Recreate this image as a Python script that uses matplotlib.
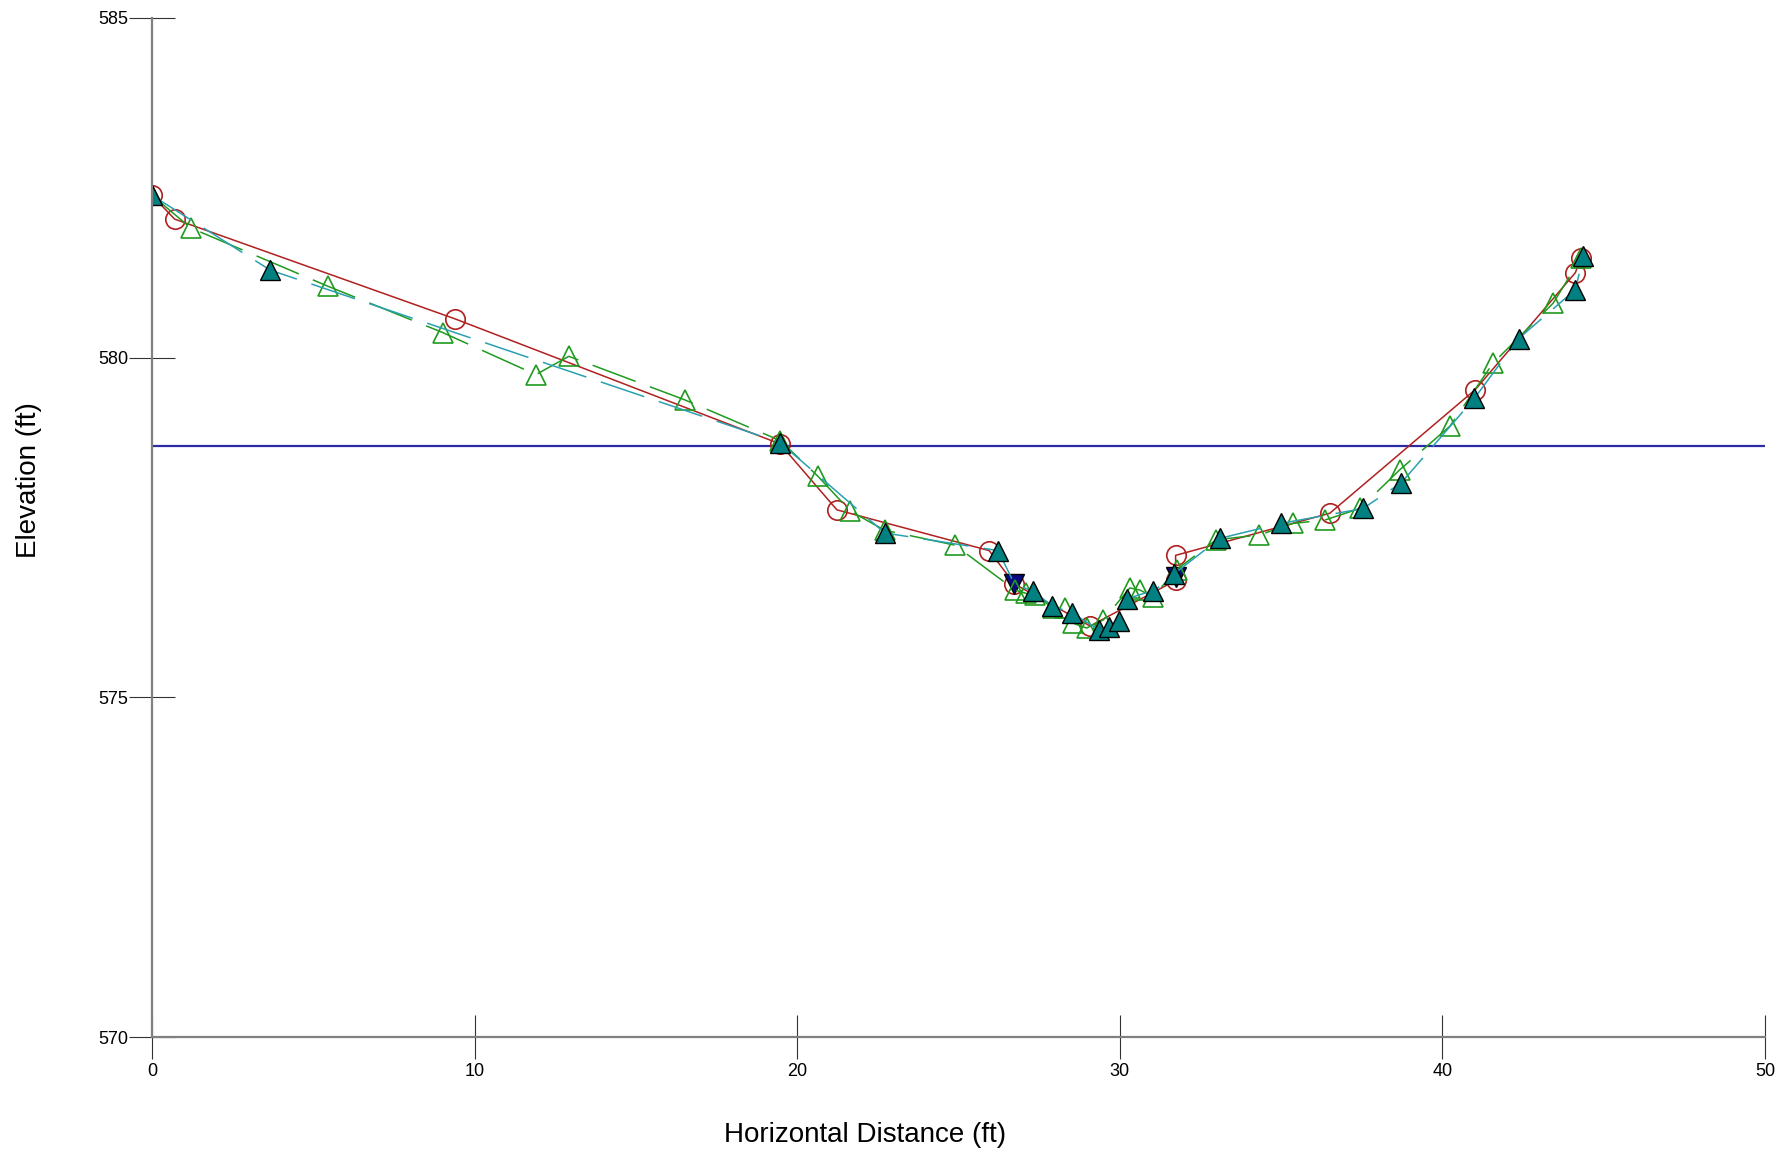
import matplotlib.pyplot as plt

plt.rcParams['font.family'] = ['Liberation Sans', 'DejaVu Sans']

# survey 1 - red circles, solid
red_x = [0.0, 0.70, 9.40, 19.47, 21.23, 25.95, 26.73, 29.08, 31.73, 31.73, 36.51, 41.02, 44.12, 44.30]
red_y = [582.39, 582.04, 580.57, 578.73, 577.76, 577.16, 576.67, 576.05, 576.72, 577.09, 577.71, 579.53, 581.25, 581.47]

# survey 2 - green open triangles, dashed
green_x = [0.0, 1.20, 5.46, 9.01, 11.90, 12.92, 16.51, 19.47, 20.63, 21.65, 22.71, 24.89, 26.75, 27.10,
           27.37, 27.94, 28.30, 28.56, 28.97, 29.49, 30.31, 30.62, 31.03, 31.76, 32.99, 34.33, 35.37,
           36.36, 37.44, 38.68, 40.23, 41.57, 43.43, 44.30]
green_y = [582.39, 581.91, 581.05, 580.37, 579.75, 580.02, 579.38, 578.78, 578.26, 577.74, 577.46, 577.24,
           576.58, 576.53, 576.51, 576.31, 576.31, 576.09, 576.02, 576.14, 576.61, 576.58, 576.48, 576.88,
           577.32, 577.39, 577.56, 577.61, 577.78, 578.35, 578.99, 579.92, 580.80, 581.47]

# survey 3 - teal filled triangles, dashed cyan
teal_x = [0.0, 3.66, 19.47, 22.71, 26.23, 26.73, 27.32, 27.89, 28.52, 29.37, 29.68, 29.96, 30.21, 31.02,
          31.73, 31.69, 33.10, 35.00, 37.54, 38.73, 40.99, 42.36, 44.12, 44.37]
teal_y = [582.39, 581.29, 578.75, 577.42, 577.16, 576.67, 576.56, 576.35, 576.24, 575.99, 576.04, 576.12,
          576.45, 576.57, 576.77, 576.82, 577.34, 577.56, 577.78, 578.16, 579.40, 580.28, 581.00, 581.49]
# points drawn as navy down triangles
navy_x = [26.73, 31.73]
navy_y = [576.67, 576.77]
# teal marker points (without the navy ones)
tri_x = [x for x in teal_x if x not in navy_x]
tri_y = [y for x, y in zip(teal_x, teal_y) if x not in navy_x]

water_level = 578.70

fig = plt.figure(figsize=(17.81, 11.52), dpi=100)
ax = fig.add_axes([152 / 1781, 115 / 1152, (1765 - 152) / 1781, (1037 - 18) / 1152])

ax.axhline(water_level, color='#2b2ba6', lw=1.6, zorder=1)
ax.plot(red_x, red_y, color='#b02020', lw=1.1, marker='o', ms=14, mfc='none', mec='#b02020', mew=1.2, zorder=2)
ax.plot(navy_x, navy_y, ls='none', marker='v', ms=14, mfc='#0a0a80', mec='black', mew=1.0, zorder=3)
ax.plot(green_x, green_y, color='#1f9a1f', lw=1.1, dashes=(30, 10), marker='^', ms=14, mfc='none',
        mec='#1f9a1f', mew=1.2, zorder=4)
ax.plot(teal_x, teal_y, color='#2aa0b0', lw=1.1, dashes=(30, 10), zorder=5)
ax.plot(tri_x, tri_y, ls='none', marker='^', ms=14, mfc='#008080', mec='black', mew=1.0, zorder=6)

ax.set_xlim(0, 50)
ax.set_ylim(570, 585)
ax.set_xticks([0, 10, 20, 30, 40, 50])
ax.set_yticks([570, 575, 580, 585])

for side in ['top', 'right']:
    ax.spines[side].set_visible(False)
for side in ['left', 'bottom']:
    ax.spines[side].set_color('#808080')
    ax.spines[side].set_linewidth(1.6)
    ax.spines[side].set_zorder(7)

ax.tick_params(axis='x', direction='inout', length=31, width=0.8, color='#333333', pad=3, labelsize=13)
ax.tick_params(axis='y', direction='inout', length=33, width=0.8, color='#333333', pad=0.5, labelsize=13)

fig.text(865.5 / 1781, 1 - 1135 / 1152, 'Horizontal Distance (ft)', ha='center', va='center', fontsize=20)
fig.text(29 / 1781, 1 - 480 / 1152, 'Elevation (ft)', ha='center', va='center', rotation=90, fontsize=20)

fig.savefig('out.png', dpi=100)
